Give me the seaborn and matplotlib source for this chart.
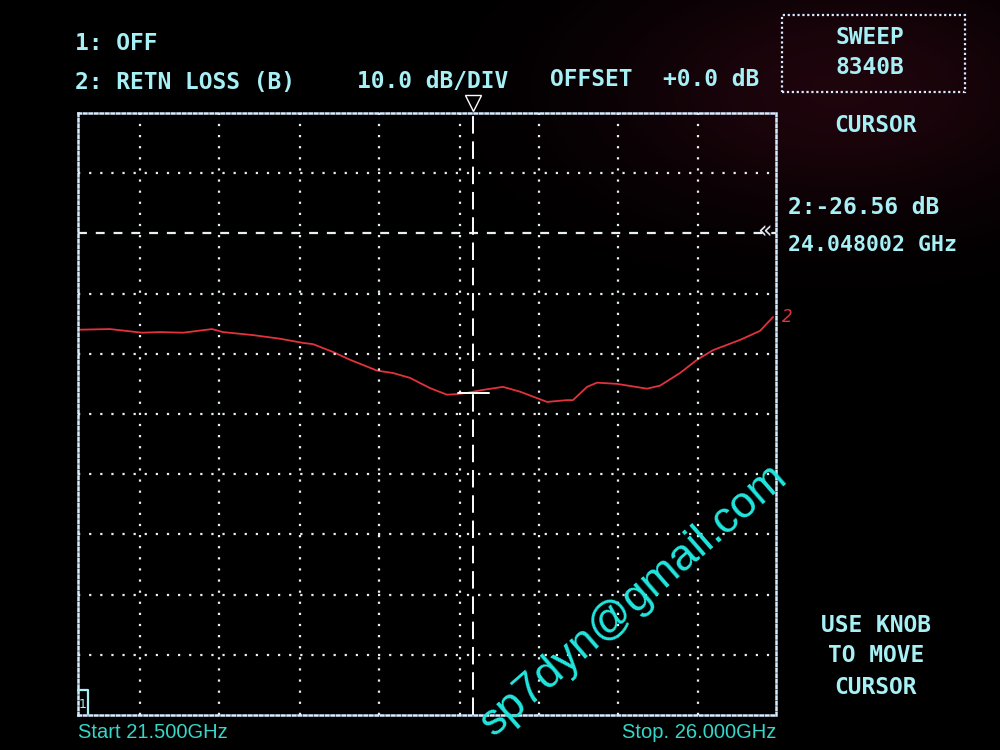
import matplotlib
matplotlib.use("Agg")
import matplotlib.pyplot as plt
import numpy as np
import pandas as pd
import seaborn as sns

# Trace: frequency (GHz) vs return loss (dB)
freq_ghz = [21.513, 21.706, 21.913, 22.029, 22.177, 22.364, 22.435, 22.628,
            22.802, 22.951, 23.015, 23.144, 23.254, 23.428, 23.531, 23.640,
            23.769, 23.879, 23.943, 24.008, 24.111, 24.240, 24.350, 24.524,
            24.653, 24.691, 24.782, 24.846, 24.975, 25.168, 25.252, 25.381,
            25.491, 25.594, 25.768, 25.897, 25.981]
retn_loss_db = [-16.0, -15.9, -16.5, -16.4, -16.5, -15.9, -16.4, -16.9,
                -17.5, -18.2, -18.4, -19.7, -21.0, -22.8, -23.2, -24.0,
                -25.7, -26.8, -26.7, -26.5, -26.0, -25.5, -26.3, -28.0,
                -27.7, -27.7, -25.5, -24.8, -25.0, -25.8, -25.3, -23.2,
                -21.0, -19.4, -17.7, -16.2, -13.9]

start_ghz = 21.5
stop_ghz = 26.0
ref_db = 0.0
top_db = 20.0
bottom_db = -80.0
cursor_ghz = 24.048002
cursor_db = -26.56

# vertical graticule lines as they sit on the (slightly distorted) screen
grid_freqs = [21.90, 22.41, 22.93, 23.44, 23.96, 24.47, 24.98, 25.50]
grid_levels = [10, 0, -10, -20, -30, -40, -50, -60, -70]

sns.set_theme(style="dark")
plt.rcParams["font.family"] = ["DejaVu Sans Mono", "DejaVu Sans"]

screen_text = "#a6f0f6"
teal = "#36d6c8"
grid_col = "#e8f0f4"

fig = plt.figure(figsize=(10, 7.5), dpi=100, facecolor="black")

# faint reflection glow on the CRT glass
bg = fig.add_axes([0, 0, 1, 1])
yy, xx = np.mgrid[0:750, 0:1000]
glow = np.exp(-(((xx - 840) / 230.0) ** 2 + ((yy - 90) / 120.0) ** 2))
img = np.zeros((750, 1000, 3))
img[..., 0] = 0.12 * glow
img[..., 1] = 0.02 * glow
img[..., 2] = 0.05 * glow
bg.imshow(img, aspect="auto")
bg.axis("off")

ax = fig.add_axes([0.078, 0.0467, 0.698, 0.8027])
ax.set_facecolor((0, 0, 0, 0))

df = pd.DataFrame({"freq": freq_ghz, "db": retn_loss_db})
sns.lineplot(data=df, x="freq", y="db", ax=ax, color="#e2323c", linewidth=1.3)

for f in grid_freqs:
    ax.axvline(f, color=grid_col, linestyle=(0, (1, 4)), linewidth=1.6)
for lv in grid_levels:
    if lv == ref_db:
        ax.axhline(lv, color=grid_col, linestyle=(0, (4, 4)), linewidth=1.6)
    else:
        ax.axhline(lv, color=grid_col, linestyle=(0, (1, 4)), linewidth=1.6)

# cursor
ax.axvline(cursor_ghz, color="white", linestyle=(0, (9, 4)), linewidth=1.4)
ax.plot([cursor_ghz - 0.1, cursor_ghz + 0.1], [cursor_db, cursor_db],
        color="white", linewidth=1.4)
ax.plot([cursor_ghz], [top_db + 1.7], marker="v", markersize=12,
        markerfacecolor="none", markeredgecolor="white", clip_on=False)

ax.set_xlim(start_ghz, stop_ghz)
ax.set_ylim(bottom_db, top_db)
ax.set_xticks([])
ax.set_yticks([])
ax.set_xlabel("")
ax.set_ylabel("")
for sp in ax.spines.values():
    sp.set_visible(True)
    sp.set_color("#d8ecff")
    sp.set_linestyle((0, (1, 1.2)))
    sp.set_linewidth(1.8)

ax.text(stop_ghz + 0.04, retn_loss_db[-1], "2", color="#e2323c",
        fontsize=12, va="center", ha="left", style="italic",
        family=["DejaVu Sans"])
ax.text(stop_ghz - 0.03, ref_db + 0.3, "«", color="#dfe8ee", fontsize=17,
        va="center", ha="right", family=["DejaVu Sans"])


def px(x, y):
    return x / 1000.0, 1 - y / 750.0


def screen(x, y, s, ha="left", size=16.5):
    fig.text(*px(x, y), s, color=screen_text, fontsize=size,
             fontweight="bold", ha=ha, va="center")


screen(75, 44, "1: OFF")
screen(75, 82, "2: RETN LOSS (B)")
screen(357, 81, "10.0 dB/DIV")
screen(550, 80, "OFFSET")
screen(663, 79, "+0.0 dB")
screen(870, 38, "SWEEP", ha="center")
screen(870, 68, "8340B", ha="center")
screen(875, 126, "CURSOR", ha="center")
screen(788, 208, "2:-26.56 dB")
screen(788, 245, "24.048002 GHz", size=15.5)
screen(876, 625, "USE KNOB", ha="center")
screen(876, 656, "TO MOVE", ha="center")
screen(876, 687, "CURSOR", ha="center")

# sweep box
box = plt.Rectangle(px(782, 92), 0.183, 77 / 750.0, transform=fig.transFigure,
                    fill=False, edgecolor="#d8ecff", linewidth=1.6,
                    linestyle=(0, (1, 1.2)))
fig.patches.append(box)

# channel 1 marker at lower left
fig.text(*px(83, 705), "1", color=screen_text, fontsize=9, ha="center",
         va="center", family=["DejaVu Sans"])
fig.lines.append(plt.Line2D([0.078, 0.088, 0.088], [1 - 690 / 750, 1 - 690 / 750, 1 - 714 / 750],
                            transform=fig.transFigure, color=screen_text, linewidth=1.6))

fig.text(*px(78, 733), "Start 21.500GHz", color=teal, fontsize=14.5,
         ha="left", va="center", family=["Liberation Sans", "DejaVu Sans"])
fig.text(*px(776, 733), "Stop. 26.000GHz", color=teal, fontsize=14.5,
         ha="right", va="center", family=["Liberation Sans", "DejaVu Sans"])

fig.text(*px(634, 600), "sp7dyn@gmail.com", color="#22e6de", fontsize=32,
         rotation=41, ha="center", va="center",
         family=["Liberation Sans", "DejaVu Sans"])

fig.savefig("out.png", dpi=100, facecolor="black")
